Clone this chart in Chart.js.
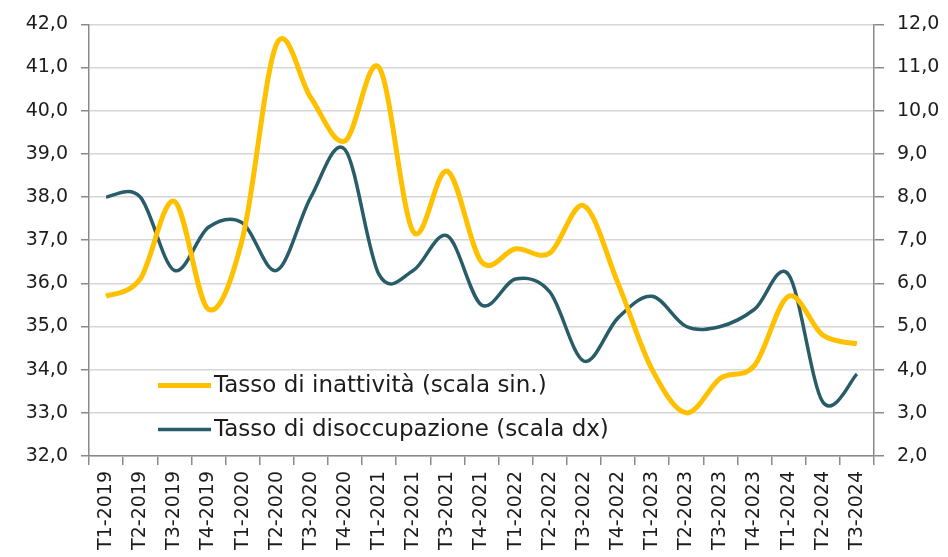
<!DOCTYPE html>
<html lang="it">
  <head>
    <meta charset="UTF-8" />
    <meta name="viewport" content="width=device-width, initial-scale=1.0" />
    <script src="https://cdn.jsdelivr.net/npm/chart.js@4.4.0/dist/chart.umd.min.js"></script>
    <style>
      html, body { margin: 0; padding: 0; background: #fff; }
      #wrap { position: relative; width: 948px; height: 557px; }
    </style>
  </head>
  <body>
    <div id="wrap">
      <canvas id="lavoroChart" width="948" height="557"></canvas>
    </div>

    <script>
      // trimestri
      const quarters = [
        "T1-2019", "T2-2019", "T3-2019", "T4-2019",
        "T1-2020", "T2-2020", "T3-2020", "T4-2020",
        "T1-2021", "T2-2021", "T3-2021", "T4-2021",
        "T1-2022", "T2-2022", "T3-2022", "T4-2022",
        "T1-2023", "T2-2023", "T3-2023", "T4-2023",
        "T1-2024", "T2-2024", "T3-2024",
      ];

      // tasso di inattività (scala sin.)
      const inattivita = [
        35.7, 36.1, 37.9, 35.4, 37.05, 41.55, 40.3, 39.3, 41.0, 37.2, 38.6, 36.5,
        36.8, 36.7, 37.8, 36.0, 34.0, 33.0, 33.8, 34.1, 35.7, 34.8, 34.6,
      ];

      // tasso di disoccupazione (scala dx)
      const disoccupazione = [
        8.0, 8.0, 6.3, 7.3, 7.4, 6.3, 8.0, 9.1, 6.2, 6.3, 7.1, 5.5,
        6.1, 5.8, 4.2, 5.2, 5.7, 5.0, 5.0, 5.4, 6.2, 3.25, 3.9,
      ];

      const leftTicks = { min: 32, max: 42, step: 1 };
      const rightTicks = { min: 2, max: 12, step: 1 };

      const FONT = "'DejaVu Sans', Verdana, sans-serif";
      const TXT = "#1c1c1c";
      const AXIS = "#8a8a8a";
      const GRID = "#d6d6d6";

      const fmt = (v) => v.toFixed(1).replace(".", ",");

      // curve "smussate" tipo Excel: Catmull-Rom uniforme sui punti già scalati
      const excelSmooth = {
        id: "excelSmooth",
        beforeDatasetsDraw(chart) {
          chart.data.datasets.forEach((ds, i) => {
            const meta = chart.getDatasetMeta(i);
            meta.dataset.updateControlPoints(chart.chartArea, "x");
            const pts = meta.data;
            const n = pts.length;
            for (let k = 0; k < n; k++) {
              const prev = pts[Math.max(k - 1, 0)];
              const next = pts[Math.min(k + 1, n - 1)];
              const dx = (next.x - prev.x) / 6;
              const dy = (next.y - prev.y) / 6;
              pts[k].cp1x = pts[k].x - dx;
              pts[k].cp1y = pts[k].y - dy;
              pts[k].cp2x = pts[k].x + dx;
              pts[k].cp2y = pts[k].y + dy;
            }
          });
        },
      };

      // legenda dentro l'area del grafico, in basso a sinistra
      const innerLegend = {
        id: "innerLegend",
        afterDraw(chart) {
          const ctx = chart.ctx;
          const area = chart.chartArea;
          const x0 = area.left + 69;
          const rows = [area.top + 361, area.top + 405];
          ctx.save();
          ctx.font = "23px " + FONT;
          ctx.textBaseline = "middle";
          ctx.textAlign = "left";
          chart.data.datasets.forEach((ds, i) => {
            const y = rows[i];
            ctx.strokeStyle = ds.borderColor;
            ctx.lineWidth = ds.borderWidth;
            ctx.lineCap = "butt";
            ctx.beginPath();
            ctx.moveTo(x0, y);
            ctx.lineTo(x0 + 53, y);
            ctx.stroke();
            ctx.fillStyle = TXT;
            ctx.fillText(ds.label, x0 + 56, y + 1);
          });
          ctx.restore();
        },
      };

      const data = {
        labels: quarters,
        datasets: [
          {
            label: "Tasso di inattività (scala sin.)",
            data: inattivita,
            yAxisID: "y",
            borderColor: "#ffc000",
            borderWidth: 5,
            pointRadius: 0,
            tension: 0.4,
            fill: false,
          },
          {
            label: "Tasso di disoccupazione (scala dx)",
            data: disoccupazione,
            yAxisID: "y1",
            borderColor: "#285c69",
            borderWidth: 3.5,
            pointRadius: 0,
            tension: 0.4,
            fill: false,
          },
        ],
      };

      const config = {
        type: "line",
        data: data,
        plugins: [excelSmooth, innerLegend],
        options: {
          responsive: false,
          animation: false,
          layout: { padding: { top: 17, left: 0, right: 0, bottom: 0 } },
          plugins: {
            legend: { display: false },
            tooltip: { enabled: false },
          },
          scales: {
            x: {
              offset: true,
              grid: {
                offset: true,
                drawOnChartArea: false,
                drawTicks: true,
                tickLength: 9,
                color: AXIS,
                lineWidth: 1.5,
              },
              border: { color: AXIS, width: 1.5 },
              ticks: {
                autoSkip: false,
                maxRotation: 90,
                minRotation: 90,
                padding: 6,
                color: TXT,
                font: { family: FONT, size: 19 },
              },
              afterFit(scale) {
                scale.height = 101;
              },
            },
            y: {
              position: "left",
              min: leftTicks.min,
              max: leftTicks.max,
              grid: {
                color: GRID,
                lineWidth: 1.5,
                tickLength: 8,
                tickColor: AXIS,
              },
              border: { color: AXIS, width: 1.5 },
              ticks: {
                stepSize: leftTicks.step,
                padding: 13,
                color: TXT,
                font: { family: FONT, size: 19 },
                callback: (v) => fmt(v),
              },
              afterFit(scale) {
                scale.width = 89;
              },
            },
            y1: {
              position: "right",
              min: rightTicks.min,
              max: rightTicks.max,
              grid: {
                drawOnChartArea: false,
                tickLength: 10,
                color: AXIS,
                lineWidth: 1.5,
              },
              border: { color: AXIS, width: 1.5 },
              ticks: {
                stepSize: rightTicks.step,
                padding: 13,
                color: TXT,
                font: { family: FONT, size: 19 },
                callback: (v) => fmt(v),
              },
              afterFit(scale) {
                scale.width = 74;
              },
            },
          },
        },
      };

      document.addEventListener("DOMContentLoaded", () => {
        const ctx = document.getElementById("lavoroChart");
        new Chart(ctx, config);
      });
    </script>
  </body>
</html>
